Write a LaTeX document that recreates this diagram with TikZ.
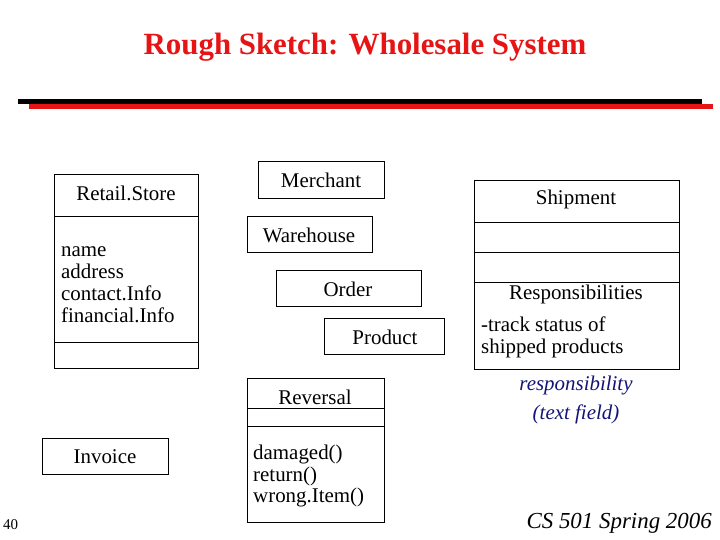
\documentclass[tikz,border=0pt]{standalone}
\usepackage{fontspec}
\setmainfont{Liberation Serif}
\begin{document}
\begin{tikzpicture}[x=1bp,y=-1bp,
  box/.style={draw,line width=0.8bp},
  lbl/.style={inner sep=0,font=\fontsize{21}{26}\selectfont},
  lft/.style={lbl,anchor=west,align=left}]
\useasboundingbox (0,0) rectangle (720,540);
\definecolor{ttl}{RGB}{230,20,20}
\definecolor{nav}{RGB}{20,20,120}
\node[inner sep=0,text=ttl,font=\fontsize{31}{36}\selectfont\bfseries] (title) at (365,47) {Rough Sketch: Wholesale System};
\fill[black] (18,99) rectangle (702,104);
\fill[ttl] (29,104) rectangle (713,109);
% RetailStore
\draw[box] (54,174) rectangle (198,368);
\draw[box] (54,216) -- (198,216); \draw[box] (54,342) -- (198,342);
\node[lbl] (rs) at (126,193) {Retail.Store};
\node[lft] (rsa) at (61,285) {name\\[-4pt]address\\[-4pt]contact.Info\\[-4pt]financial.Info};
% Merchant etc
\draw[box] (258,161) rectangle (384,198); \node[lbl] (m) at (321,180) {Merchant};
\draw[box] (247,216) rectangle (372,252); \node[lbl] (w) at (309,235) {Warehouse};
\draw[box] (276,270) rectangle (421,306); \node[lbl] (o) at (348,289) {Order};
\draw[box] (324,318) rectangle (444,354); \node[lbl] (p) at (385,337) {Product};
% Reversal
\draw[box] (247,378) rectangle (384,522);
\draw[box] (247,408) -- (384,408); \draw[box] (247,426) -- (384,426);
\node[lbl] (r) at (315,397) {Reversal};
\node[lft] (ra) at (253,476) {damaged()\\[-4pt]return()\\[-4pt]wrong.Item()};
% Invoice
\draw[box] (42,438) rectangle (168,474); \node[lbl] (i) at (105,457) {Invoice};
% Shipment
\draw[box] (474,180) rectangle (679,369);
\draw[box] (474,222) -- (679,222); \draw[box] (474,252) -- (679,252); \draw[box] (474,282) -- (679,282);
\node[lbl] (s) at (576,199) {Shipment};
\node[lbl] (sr) at (576,294) {Responsibilities};
\node[lft] (sa) at (481,337) {-track status of\\[-4pt]shipped products};
\node[lbl,text=nav,font=\fontsize{21}{29}\selectfont\itshape,align=center] (note) at (576,400) {responsibility\\(text field)};
\node[inner sep=0,font=\fontsize{15}{18}\selectfont,anchor=west] (num) at (3,525) {40};
\node[inner sep=0,font=\fontsize{23}{28}\selectfont\itshape,anchor=east] (ft) at (712,523) {CS 501 Spring 2006};
\end{tikzpicture}
\end{document}
